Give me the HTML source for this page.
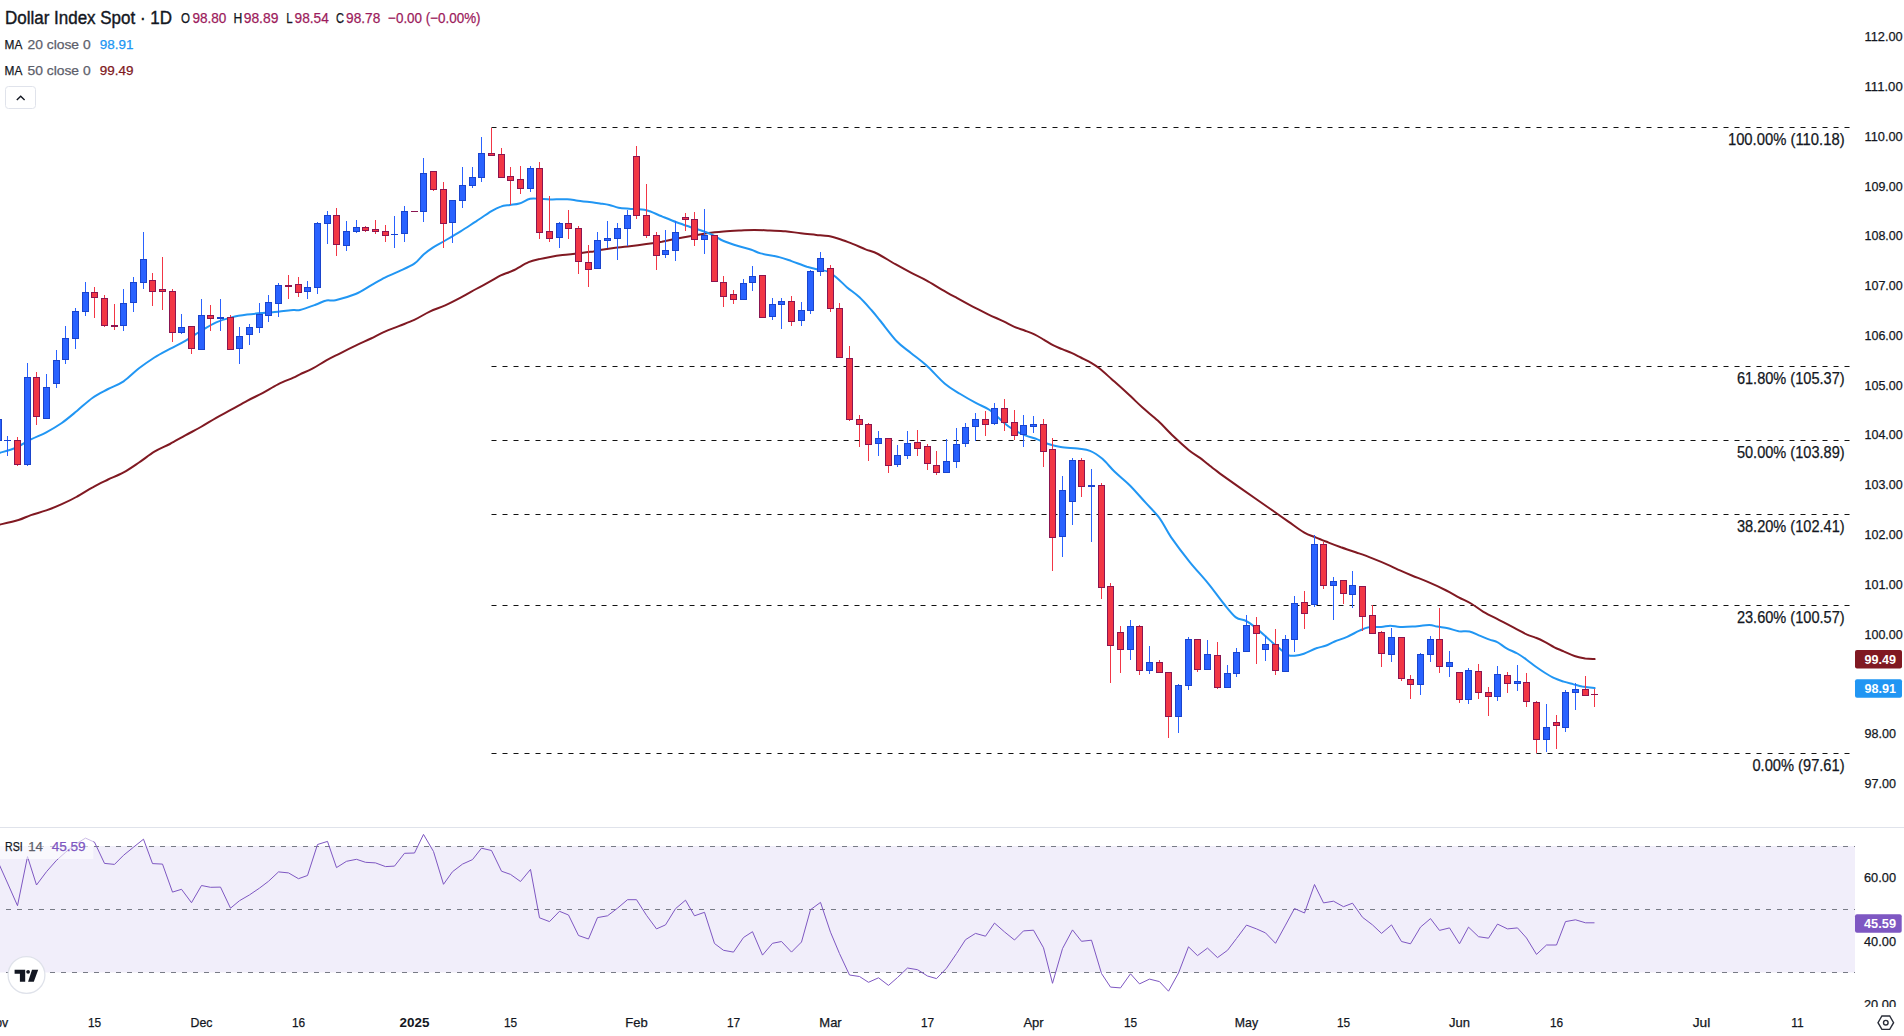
<!DOCTYPE html>
<html lang="en"><head><meta charset="utf-8"><title>Dollar Index Spot</title>
<style>
html,body{margin:0;padding:0;background:#fff;}
body{width:1904px;height:1036px;overflow:hidden;}
svg{display:block;font-family:"Liberation Sans", sans-serif;}
text{font-family:"Liberation Sans", sans-serif;}
</style></head><body>
<svg width="1904" height="1036" viewBox="0 0 1904 1036">
<rect width="1904" height="1036" fill="#fff"/>

<line x1="0" y1="827.5" x2="1904" y2="827.5" stroke="#e0e3eb" stroke-width="1"/>
<rect x="0" y="846" width="1855" height="126.5" fill="#f1eefa"/>
<line x1="0" y1="846.5" x2="1855" y2="846.5" stroke="#787b86" stroke-width="1" stroke-dasharray="5 6" stroke-dashoffset="5"/>
<line x1="0" y1="909.5" x2="1855" y2="909.5" stroke="#787b86" stroke-width="1" stroke-dasharray="5 6" stroke-dashoffset="5"/>
<line x1="0" y1="972.5" x2="1855" y2="972.5" stroke="#787b86" stroke-width="1" stroke-dasharray="5 6" stroke-dashoffset="5"/>
<polyline points="-1.5,862.9 7.5,883.0 17.5,905.7 27.5,856.6 36.5,885.0 46.5,871.7 56.5,860.3 65.5,852.3 75.5,844.2 85.5,838.1 94.5,842.2 104.5,863.4 114.5,864.4 123.5,855.3 133.5,847.2 143.5,839.2 152.5,863.6 162.5,864.1 172.5,892.1 181.5,889.3 191.5,902.7 201.5,885.5 210.5,887.3 220.5,887.1 230.5,908.2 239.5,900.7 249.5,894.9 259.5,888.1 268.5,881.3 278.5,871.9 288.5,872.9 298.5,878.7 307.5,875.5 317.5,844.5 327.5,841.4 336.5,867.6 346.5,861.3 356.5,859.3 365.5,862.3 375.5,862.9 385.5,866.6 394.5,866.1 404.5,853.3 414.5,853.0 423.5,834.4 433.5,851.5 443.5,884.3 452.5,871.7 462.5,864.1 472.5,859.6 481.5,848.2 491.5,850.5 501.5,871.2 510.5,874.4 520.5,881.5 530.5,869.4 539.5,917.8 549.5,921.6 559.5,911.3 568.5,915.0 578.5,935.5 588.5,939.0 597.5,917.6 607.5,915.8 617.5,908.2 627.5,899.7 636.5,899.7 646.5,915.3 656.5,928.9 665.5,924.9 675.5,908.7 685.5,900.2 694.5,915.8 704.5,912.3 714.5,943.5 723.5,950.3 733.5,952.1 743.5,937.5 752.5,931.7 762.5,955.1 772.5,943.3 781.5,941.5 791.5,952.1 801.5,942.0 810.5,909.7 820.5,902.4 830.5,932.2 839.5,953.6 849.5,975.0 859.5,976.5 868.5,982.3 878.5,977.8 888.5,985.4 897.5,977.5 907.5,968.0 917.5,969.7 927.5,976.0 936.5,978.6 946.5,968.2 956.5,953.6 965.5,939.7 975.5,933.4 985.5,936.2 994.5,923.1 1004.5,931.9 1014.5,940.0 1023.5,930.9 1033.5,930.2 1043.5,947.8 1052.5,983.3 1062.5,948.6 1072.5,929.9 1081.5,941.3 1091.5,940.2 1101.5,973.5 1110.5,987.1 1120.5,987.9 1130.5,973.8 1139.5,983.9 1149.5,979.1 1159.5,981.6 1168.5,991.2 1178.5,973.0 1188.5,946.8 1197.5,955.6 1207.5,948.1 1217.5,957.6 1227.5,950.3 1236.5,938.5 1246.5,925.1 1256.5,928.9 1265.5,932.9 1275.5,943.3 1285.5,925.1 1294.5,908.5 1304.5,913.0 1314.5,884.5 1323.5,902.9 1333.5,901.2 1343.5,906.7 1352.5,903.2 1362.5,917.3 1372.5,924.9 1381.5,933.4 1391.5,924.9 1401.5,941.5 1410.5,943.8 1420.5,927.1 1430.5,918.6 1439.5,930.4 1449.5,927.9 1459.5,943.8 1468.5,927.1 1478.5,936.7 1488.5,938.2 1497.5,924.1 1507.5,928.9 1517.5,927.9 1526.5,938.0 1536.5,954.4 1546.5,945.0 1556.5,945.0 1565.5,921.6 1575.5,919.8 1585.5,922.8 1594.5,922.8" fill="none" stroke="#7e57c2" stroke-width="1" stroke-linejoin="round"/>
<line x1="491.5" y1="127.5" x2="1850" y2="127.5" stroke="#131313" stroke-width="1" stroke-dasharray="5 6"/>
<text x="1844.6" y="145.1" font-size="16" fill="#131722" text-anchor="end" stroke="#131722" stroke-width="0.25" textLength="116.7" lengthAdjust="spacingAndGlyphs">100.00% (110.18)</text>
<line x1="491.5" y1="366.5" x2="1850" y2="366.5" stroke="#131313" stroke-width="1" stroke-dasharray="5 6"/>
<text x="1844.6" y="384.1" font-size="16" fill="#131722" text-anchor="end" stroke="#131722" stroke-width="0.25" textLength="107.7" lengthAdjust="spacingAndGlyphs">61.80% (105.37)</text>
<line x1="491.5" y1="440.5" x2="1850" y2="440.5" stroke="#131313" stroke-width="1" stroke-dasharray="5 6"/>
<text x="1844.6" y="458.1" font-size="16" fill="#131722" text-anchor="end" stroke="#131722" stroke-width="0.25" textLength="107.7" lengthAdjust="spacingAndGlyphs">50.00% (103.89)</text>
<line x1="491.5" y1="514.5" x2="1850" y2="514.5" stroke="#131313" stroke-width="1" stroke-dasharray="5 6"/>
<text x="1844.6" y="532.1" font-size="16" fill="#131722" text-anchor="end" stroke="#131722" stroke-width="0.25" textLength="107.7" lengthAdjust="spacingAndGlyphs">38.20% (102.41)</text>
<line x1="491.5" y1="605.5" x2="1850" y2="605.5" stroke="#131313" stroke-width="1" stroke-dasharray="5 6"/>
<text x="1844.6" y="623.1" font-size="16" fill="#131722" text-anchor="end" stroke="#131722" stroke-width="0.25" textLength="107.7" lengthAdjust="spacingAndGlyphs">23.60% (100.57)</text>
<line x1="491.5" y1="753.5" x2="1850" y2="753.5" stroke="#131313" stroke-width="1" stroke-dasharray="5 6"/>
<text x="1844.6" y="771.1" font-size="16" fill="#131722" text-anchor="end" stroke="#131722" stroke-width="0.25" textLength="92.2" lengthAdjust="spacingAndGlyphs">0.00% (97.61)</text>
<path d="M0.0,524.5C3.1,523.8 13.4,521.6 18.5,520.0C23.7,518.4 26.3,516.7 30.9,515.1C35.5,513.5 41.2,512.2 46.3,510.4C51.5,508.6 56.6,506.6 61.8,504.2C66.9,501.9 72.1,499.4 77.2,496.5C82.4,493.7 87.5,490.1 92.7,487.3C97.8,484.4 103.0,482.0 108.1,479.5C113.3,477.1 118.4,475.3 123.6,472.4C128.7,469.6 133.8,466.0 139.0,462.5C144.1,459.1 149.3,454.8 154.4,451.7C159.6,448.6 164.7,446.7 169.9,444.0C175.0,441.3 180.2,438.2 185.3,435.4C190.5,432.5 195.6,430.0 200.8,427.0C205.9,424.1 211.1,420.7 216.2,417.8C221.4,414.8 226.5,412.3 231.7,409.4C236.8,406.6 242.0,403.5 247.1,400.8C252.3,398.0 257.4,395.8 262.5,393.1C267.7,390.3 272.8,387.0 278.0,384.4C283.1,381.8 289.8,379.3 293.4,377.6C297.1,375.9 296.8,375.8 300.0,374.3C303.2,372.8 308.0,371.0 312.4,368.7C316.7,366.4 321.6,363.0 326.3,360.4C330.9,357.8 335.3,355.8 340.2,353.3C345.0,350.8 350.5,348.0 355.6,345.6C360.7,343.1 366.2,340.8 371.0,338.5C375.9,336.1 380.3,333.7 384.9,331.7C389.6,329.6 394.0,328.1 398.8,326.1C403.7,324.1 409.1,322.3 414.3,319.9C419.4,317.5 424.6,314.0 429.7,311.6C434.9,309.2 440.0,307.7 445.2,305.4C450.3,303.1 455.5,300.4 460.6,297.7C465.8,295.0 470.9,291.9 476.1,289.0C481.2,286.2 487.4,283.0 491.5,280.7C495.6,278.4 497.2,277.1 500.8,275.4C504.4,273.7 508.5,272.7 513.1,270.5C517.8,268.3 524.2,264.1 528.6,262.2C532.9,260.3 535.8,259.9 539.4,259.1C543.0,258.2 546.3,257.6 550.2,256.9C554.1,256.2 557.9,255.6 562.5,255.1C567.2,254.5 572.8,254.1 578.0,253.5C583.1,252.9 589.8,251.9 593.4,251.4C597.1,250.8 596.3,250.6 600.0,250.0C603.7,249.4 610.8,248.4 615.4,247.8C620.1,247.3 622.7,247.2 627.8,246.6C632.9,246.0 640.7,245.0 646.3,244.1C652.0,243.3 656.6,242.6 661.8,241.7C666.9,240.7 672.1,239.5 677.2,238.6C682.4,237.6 687.5,236.7 692.7,235.8C697.8,234.9 703.0,233.7 708.1,233.0C713.3,232.3 718.4,231.9 723.6,231.5C728.7,231.1 733.8,230.8 739.0,230.5C744.1,230.3 749.3,229.9 754.4,229.9C759.6,229.9 764.7,230.3 769.9,230.5C775.0,230.7 780.2,230.7 785.3,231.2C790.5,231.6 795.6,232.7 800.8,233.3C805.9,233.9 811.6,234.4 816.2,234.9C820.8,235.3 824.5,235.3 828.6,236.1C832.7,236.9 836.8,238.2 840.9,239.5C845.0,240.8 849.2,242.5 853.3,244.1C857.4,245.8 861.5,247.7 865.6,249.4C869.8,251.0 873.0,251.5 878.0,254.0C883.0,256.5 890.0,261.2 895.4,264.2C900.9,267.3 905.7,269.9 910.9,272.6C916.0,275.3 921.2,277.5 926.3,280.3C931.5,283.1 936.6,286.6 941.8,289.6C946.9,292.6 952.1,295.4 957.2,298.2C962.4,301.1 967.5,303.9 972.7,306.6C977.8,309.2 983.0,311.8 988.1,314.3C993.3,316.8 999.2,319.3 1003.6,321.4C1007.9,323.5 1010.8,325.4 1014.4,326.9C1018.0,328.5 1021.8,329.4 1025.2,330.7C1028.5,331.9 1031.4,332.9 1034.4,334.4C1037.5,335.9 1040.6,337.8 1043.7,339.6C1046.8,341.4 1049.9,343.6 1053.0,345.2C1056.1,346.8 1059.2,347.9 1062.2,349.2C1065.3,350.5 1068.4,351.5 1071.5,352.9C1074.6,354.3 1077.4,355.8 1080.8,357.5C1084.1,359.2 1088.5,361.3 1091.6,363.1C1094.7,364.9 1096.0,365.7 1099.3,368.3C1102.7,371.0 1107.0,375.0 1111.7,379.2C1116.3,383.3 1122.0,388.3 1127.1,393.1C1132.3,397.8 1137.4,402.9 1142.5,407.6C1147.7,412.2 1152.8,416.1 1158.0,420.8C1163.1,425.6 1168.3,431.4 1173.4,436.3C1178.6,441.2 1184.5,446.6 1188.9,450.2C1193.3,453.8 1196.7,455.5 1200.0,457.9C1203.3,460.4 1205.5,462.3 1208.9,464.9C1212.2,467.6 1211.9,467.7 1220.0,473.6C1228.1,479.4 1248.7,493.8 1257.5,500.0C1266.4,506.2 1267.8,507.2 1273.0,510.8C1278.1,514.4 1283.3,518.0 1288.4,521.6C1293.6,525.2 1299.2,529.8 1303.9,532.4C1308.5,535.1 1312.1,536.0 1316.2,537.7C1320.3,539.4 1324.5,541.0 1328.6,542.6C1332.7,544.2 1336.3,545.6 1340.9,547.3C1345.6,548.9 1351.2,550.7 1356.4,552.5C1361.5,554.3 1366.2,555.9 1371.8,558.1C1377.5,560.3 1385.6,563.7 1390.3,565.8C1395.0,567.9 1396.3,568.8 1400.0,570.4C1403.7,572.1 1407.7,573.8 1412.4,575.7C1417.0,577.6 1422.1,579.4 1427.8,581.9C1433.5,584.3 1441.2,587.9 1446.3,590.5C1451.5,593.1 1454.6,595.1 1458.7,597.3C1462.8,599.5 1466.9,601.1 1471.0,603.5C1475.2,605.9 1478.8,609.1 1483.4,611.8C1488.0,614.5 1493.7,617.2 1498.8,619.8C1504.0,622.5 1509.7,625.5 1514.3,627.9C1518.9,630.3 1523.0,632.7 1526.6,634.4C1530.2,636.0 1532.8,636.5 1535.9,637.8C1539.0,639.0 1542.1,640.5 1545.2,642.1C1548.3,643.7 1551.4,645.8 1554.4,647.3C1557.5,648.9 1560.4,649.9 1563.7,651.4C1567.1,652.8 1570.9,654.8 1574.5,656.0C1578.1,657.2 1582.0,657.9 1585.3,658.5C1588.7,659.0 1593.1,659.0 1594.6,659.1" fill="none" stroke="#801922" stroke-width="2" stroke-linejoin="round" stroke-linecap="round"/>
<path d="M0.0,452.7C2.6,451.9 10.3,450.2 15.4,448.0C20.6,445.8 25.7,442.0 30.9,439.4C36.0,436.8 41.2,435.0 46.3,432.3C51.5,429.5 56.6,426.6 61.8,423.0C66.9,419.4 72.1,414.9 77.2,410.7C82.4,406.4 87.5,401.3 92.7,397.7C97.8,394.1 103.0,391.8 108.1,389.0C113.3,386.3 118.4,384.8 123.6,381.3C128.7,377.9 133.8,372.3 139.0,368.3C144.1,364.4 149.3,360.8 154.4,357.5C159.6,354.3 164.7,351.7 169.9,348.9C175.0,346.1 180.2,343.8 185.3,340.8C190.5,337.9 195.6,334.1 200.8,331.0C205.9,327.9 211.1,324.6 216.2,322.3C221.4,320.1 226.5,318.7 231.7,317.4C236.8,316.1 242.0,315.3 247.1,314.6C252.3,313.9 257.4,313.5 262.5,313.1C267.7,312.6 272.8,312.3 278.0,311.8C283.1,311.3 289.8,310.3 293.4,310.0C297.1,309.7 296.3,310.9 300.0,310.0C303.7,309.2 311.1,306.4 315.4,304.8C319.8,303.2 322.9,301.2 326.3,300.5C329.6,299.7 330.6,301.2 335.5,300.2C340.4,299.1 349.7,296.4 355.6,294.0C361.5,291.5 366.2,288.1 371.0,285.3C375.9,282.6 380.3,279.9 384.9,277.6C389.6,275.3 394.0,273.7 398.8,271.4C403.7,269.1 410.2,266.5 414.3,263.7C418.4,260.9 420.5,257.1 423.6,254.4C426.6,251.8 429.2,250.0 432.8,247.6C436.4,245.3 440.5,243.3 445.2,240.5C449.8,237.8 455.5,234.5 460.6,231.3C465.8,228.1 470.9,224.7 476.1,221.4C481.2,218.0 487.4,213.7 491.5,211.2C495.6,208.7 497.7,207.6 500.8,206.6C503.9,205.5 506.9,205.5 510.0,205.0C513.1,204.5 516.0,204.5 519.3,203.5C522.7,202.4 526.8,199.6 530.1,198.8C533.5,198.1 536.0,198.7 539.4,198.8C542.7,198.9 545.6,199.4 550.2,199.5C554.8,199.5 562.5,198.9 567.2,199.2C571.8,199.4 573.6,200.1 578.0,200.7C582.4,201.3 589.8,202.1 593.4,202.5C597.1,203.0 597.4,203.0 600.0,203.4C602.6,203.8 606.2,204.2 609.3,204.9C612.4,205.6 614.9,207.0 618.5,207.7C622.1,208.4 626.3,208.5 630.9,208.9C635.5,209.3 641.2,208.9 646.3,210.2C651.5,211.4 656.6,214.3 661.8,216.3C666.9,218.4 672.1,220.6 677.2,222.5C682.4,224.4 688.0,226.2 692.7,227.8C697.3,229.3 701.4,230.4 705.0,231.8C708.6,233.1 711.2,234.2 714.3,235.8C717.4,237.3 719.4,239.3 723.6,241.0C727.7,242.8 734.4,244.9 739.0,246.3C743.6,247.7 747.7,248.5 751.4,249.7C755.0,250.9 756.0,252.2 760.6,253.4C765.3,254.6 774.0,255.8 779.2,257.1C784.3,258.4 786.9,259.5 791.5,261.1C796.1,262.7 802.3,265.2 806.9,266.7C811.6,268.1 815.7,268.9 819.3,269.8C822.9,270.6 825.5,270.4 828.6,271.9C831.7,273.4 834.7,276.2 837.8,278.7C840.9,281.3 843.5,284.3 847.1,287.4C850.7,290.5 855.3,293.4 859.5,297.3C863.6,301.1 868.4,306.7 871.8,310.5C875.2,314.4 875.8,315.3 880.0,320.5C884.2,325.6 891.8,336.1 897.0,341.5C902.1,346.9 906.0,348.9 910.9,352.9C915.8,356.9 920.7,360.1 926.3,365.3C932.0,370.4 939.2,379.0 944.9,383.8C950.5,388.6 955.2,390.8 960.3,394.0C965.5,397.2 970.9,400.3 975.8,402.9C980.6,405.6 985.0,406.8 989.7,410.0C994.3,413.3 999.7,419.2 1003.6,422.4C1007.4,425.6 1009.2,427.0 1012.8,429.2C1016.4,431.4 1021.1,433.7 1025.2,435.4C1029.3,437.1 1033.7,437.9 1037.5,439.4C1041.4,440.8 1044.5,442.7 1048.3,444.0C1052.2,445.3 1055.8,446.3 1060.7,447.1C1065.6,447.9 1072.8,448.0 1077.7,448.6C1082.6,449.3 1085.9,449.1 1090.0,450.8C1094.2,452.5 1098.3,455.3 1102.4,458.8C1106.5,462.3 1110.1,467.3 1114.7,471.8C1119.4,476.3 1125.0,480.6 1130.2,485.7C1135.3,490.9 1140.7,497.3 1145.6,502.7C1150.5,508.1 1155.3,512.4 1159.5,518.1C1163.8,523.9 1166.0,529.8 1171.0,537.1C1176.0,544.3 1183.4,554.1 1189.6,561.8C1195.8,569.5 1202.4,576.4 1208.1,583.4C1213.8,590.3 1218.9,597.8 1223.6,603.5C1228.2,609.1 1232.3,614.5 1235.9,617.4C1239.5,620.2 1242.1,618.9 1245.2,620.5C1248.3,622.0 1250.8,623.8 1254.4,626.6C1258.0,629.5 1262.7,633.8 1266.8,637.5C1270.9,641.1 1275.5,645.3 1279.2,648.3C1282.8,651.2 1285.8,653.8 1288.4,655.1C1291.0,656.3 1292.0,655.9 1294.6,655.7C1297.2,655.5 1300.3,655.1 1303.9,653.8C1307.5,652.6 1312.6,649.6 1316.2,648.3C1319.8,646.9 1322.4,646.9 1325.5,645.8C1328.6,644.7 1331.1,643.0 1334.7,641.5C1338.4,640.0 1343.0,638.6 1347.1,636.8C1351.2,635.0 1355.9,632.3 1359.5,630.7C1363.1,629.1 1365.1,627.9 1368.7,627.3C1372.3,626.6 1377.5,627.2 1381.1,626.9C1384.7,626.7 1387.2,625.7 1390.3,625.7C1393.5,625.7 1396.3,626.8 1400.0,626.9C1403.7,627.1 1407.5,626.9 1412.4,626.6C1417.2,626.3 1425.2,625.1 1429.3,625.1C1433.5,625.1 1434.0,626.1 1437.1,626.6C1440.2,627.2 1444.3,627.4 1447.9,628.2C1451.5,629.0 1455.1,630.7 1458.7,631.3C1462.3,631.8 1465.9,630.8 1469.5,631.6C1473.1,632.4 1477.0,634.6 1480.3,635.9C1483.7,637.2 1486.7,638.6 1489.6,639.6C1492.4,640.6 1494.5,640.6 1497.3,642.1C1500.1,643.5 1503.2,646.4 1506.6,648.3C1509.9,650.2 1514.0,651.6 1517.4,653.5C1520.7,655.4 1523.6,657.5 1526.6,659.7C1529.7,661.9 1532.8,664.6 1535.9,666.8C1539.0,669.0 1542.1,671.1 1545.2,673.0C1548.3,674.9 1551.4,676.8 1554.4,678.2C1557.5,679.7 1560.6,680.6 1563.7,681.6C1566.8,682.6 1569.9,683.3 1573.0,684.1C1576.1,684.9 1578.6,685.9 1582.2,686.6C1585.8,687.2 1592.5,687.9 1594.6,688.1" fill="none" stroke="#2196f3" stroke-width="2" stroke-linejoin="round" stroke-linecap="round"/>
<g shape-rendering="crispEdges">
<rect x="-2" y="416" width="1" height="28" fill="#2962ff"/>
<rect x="-5" y="419" width="7" height="22" fill="#1a44cc"/>
<rect x="-4" y="420" width="5" height="20" fill="#2962ff"/>
<rect x="7" y="436" width="1" height="20" fill="#2962ff"/>
<rect x="4" y="440" width="7" height="1" fill="#1a44cc"/>
<rect x="17" y="437" width="1" height="29" fill="#f23645"/>
<rect x="14" y="440" width="7" height="25" fill="#8a1550"/>
<rect x="15" y="441" width="5" height="23" fill="#f23645"/>
<rect x="27" y="363" width="1" height="103" fill="#2962ff"/>
<rect x="24" y="377" width="7" height="88" fill="#1a44cc"/>
<rect x="25" y="378" width="5" height="86" fill="#2962ff"/>
<rect x="36" y="372" width="1" height="53" fill="#f23645"/>
<rect x="33" y="377" width="7" height="40" fill="#8a1550"/>
<rect x="34" y="378" width="5" height="38" fill="#f23645"/>
<rect x="46" y="374" width="1" height="45" fill="#2962ff"/>
<rect x="43" y="387" width="7" height="32" fill="#1a44cc"/>
<rect x="44" y="388" width="5" height="30" fill="#2962ff"/>
<rect x="56" y="350" width="1" height="38" fill="#2962ff"/>
<rect x="53" y="360" width="7" height="24" fill="#1a44cc"/>
<rect x="54" y="361" width="5" height="22" fill="#2962ff"/>
<rect x="65" y="326" width="1" height="38" fill="#2962ff"/>
<rect x="62" y="338" width="7" height="22" fill="#1a44cc"/>
<rect x="63" y="339" width="5" height="20" fill="#2962ff"/>
<rect x="75" y="308" width="1" height="41" fill="#2962ff"/>
<rect x="72" y="311" width="7" height="28" fill="#1a44cc"/>
<rect x="73" y="312" width="5" height="26" fill="#2962ff"/>
<rect x="85" y="282" width="1" height="34" fill="#2962ff"/>
<rect x="82" y="292" width="7" height="20" fill="#1a44cc"/>
<rect x="83" y="293" width="5" height="18" fill="#2962ff"/>
<rect x="94" y="287" width="1" height="31" fill="#f23645"/>
<rect x="91" y="292" width="7" height="6" fill="#8a1550"/>
<rect x="92" y="293" width="5" height="4" fill="#f23645"/>
<rect x="104" y="295" width="1" height="32" fill="#f23645"/>
<rect x="101" y="298" width="7" height="28" fill="#8a1550"/>
<rect x="102" y="299" width="5" height="26" fill="#f23645"/>
<rect x="114" y="304" width="1" height="26" fill="#f23645"/>
<rect x="111" y="325" width="7" height="2" fill="#8a1550"/>
<rect x="123" y="289" width="1" height="42" fill="#2962ff"/>
<rect x="120" y="303" width="7" height="23" fill="#1a44cc"/>
<rect x="121" y="304" width="5" height="21" fill="#2962ff"/>
<rect x="133" y="277" width="1" height="35" fill="#2962ff"/>
<rect x="130" y="282" width="7" height="21" fill="#1a44cc"/>
<rect x="131" y="283" width="5" height="19" fill="#2962ff"/>
<rect x="143" y="232" width="1" height="57" fill="#2962ff"/>
<rect x="140" y="259" width="7" height="24" fill="#1a44cc"/>
<rect x="141" y="260" width="5" height="22" fill="#2962ff"/>
<rect x="152" y="273" width="1" height="33" fill="#f23645"/>
<rect x="149" y="280" width="7" height="12" fill="#8a1550"/>
<rect x="150" y="281" width="5" height="10" fill="#f23645"/>
<rect x="162" y="257" width="1" height="53" fill="#f23645"/>
<rect x="159" y="289" width="7" height="3" fill="#8a1550"/>
<rect x="160" y="290" width="5" height="1" fill="#f23645"/>
<rect x="172" y="289" width="1" height="53" fill="#f23645"/>
<rect x="169" y="291" width="7" height="42" fill="#8a1550"/>
<rect x="170" y="292" width="5" height="40" fill="#f23645"/>
<rect x="181" y="314" width="1" height="20" fill="#2962ff"/>
<rect x="178" y="327" width="7" height="6" fill="#1a44cc"/>
<rect x="179" y="328" width="5" height="4" fill="#2962ff"/>
<rect x="191" y="326" width="1" height="28" fill="#f23645"/>
<rect x="188" y="326" width="7" height="23" fill="#8a1550"/>
<rect x="189" y="327" width="5" height="21" fill="#f23645"/>
<rect x="201" y="299" width="1" height="51" fill="#2962ff"/>
<rect x="198" y="315" width="7" height="35" fill="#1a44cc"/>
<rect x="199" y="316" width="5" height="33" fill="#2962ff"/>
<rect x="210" y="305" width="1" height="26" fill="#f23645"/>
<rect x="207" y="315" width="7" height="4" fill="#8a1550"/>
<rect x="208" y="316" width="5" height="2" fill="#f23645"/>
<rect x="220" y="299" width="1" height="32" fill="#2962ff"/>
<rect x="217" y="317" width="7" height="2" fill="#1a44cc"/>
<rect x="230" y="315" width="1" height="35" fill="#f23645"/>
<rect x="227" y="317" width="7" height="33" fill="#8a1550"/>
<rect x="228" y="318" width="5" height="31" fill="#f23645"/>
<rect x="239" y="327" width="1" height="37" fill="#2962ff"/>
<rect x="236" y="336" width="7" height="13" fill="#1a44cc"/>
<rect x="237" y="337" width="5" height="11" fill="#2962ff"/>
<rect x="249" y="324" width="1" height="21" fill="#2962ff"/>
<rect x="246" y="327" width="7" height="8" fill="#1a44cc"/>
<rect x="247" y="328" width="5" height="6" fill="#2962ff"/>
<rect x="259" y="303" width="1" height="30" fill="#2962ff"/>
<rect x="256" y="314" width="7" height="14" fill="#1a44cc"/>
<rect x="257" y="315" width="5" height="12" fill="#2962ff"/>
<rect x="268" y="295" width="1" height="27" fill="#2962ff"/>
<rect x="265" y="302" width="7" height="14" fill="#1a44cc"/>
<rect x="266" y="303" width="5" height="12" fill="#2962ff"/>
<rect x="278" y="283" width="1" height="34" fill="#2962ff"/>
<rect x="275" y="285" width="7" height="19" fill="#1a44cc"/>
<rect x="276" y="286" width="5" height="17" fill="#2962ff"/>
<rect x="288" y="275" width="1" height="24" fill="#f23645"/>
<rect x="285" y="285" width="7" height="2" fill="#8a1550"/>
<rect x="298" y="277" width="1" height="20" fill="#f23645"/>
<rect x="295" y="284" width="7" height="9" fill="#8a1550"/>
<rect x="296" y="285" width="5" height="7" fill="#f23645"/>
<rect x="307" y="281" width="1" height="18" fill="#2962ff"/>
<rect x="304" y="287" width="7" height="5" fill="#1a44cc"/>
<rect x="305" y="288" width="5" height="3" fill="#2962ff"/>
<rect x="317" y="222" width="1" height="72" fill="#2962ff"/>
<rect x="314" y="223" width="7" height="65" fill="#1a44cc"/>
<rect x="315" y="224" width="5" height="63" fill="#2962ff"/>
<rect x="327" y="211" width="1" height="33" fill="#2962ff"/>
<rect x="324" y="215" width="7" height="9" fill="#1a44cc"/>
<rect x="325" y="216" width="5" height="7" fill="#2962ff"/>
<rect x="336" y="208" width="1" height="48" fill="#f23645"/>
<rect x="333" y="215" width="7" height="30" fill="#8a1550"/>
<rect x="334" y="216" width="5" height="28" fill="#f23645"/>
<rect x="346" y="221" width="1" height="30" fill="#2962ff"/>
<rect x="343" y="231" width="7" height="15" fill="#1a44cc"/>
<rect x="344" y="232" width="5" height="13" fill="#2962ff"/>
<rect x="356" y="220" width="1" height="13" fill="#2962ff"/>
<rect x="353" y="227" width="7" height="5" fill="#1a44cc"/>
<rect x="354" y="228" width="5" height="3" fill="#2962ff"/>
<rect x="365" y="226" width="1" height="6" fill="#f23645"/>
<rect x="362" y="227" width="7" height="4" fill="#8a1550"/>
<rect x="363" y="228" width="5" height="2" fill="#f23645"/>
<rect x="375" y="220" width="1" height="14" fill="#f23645"/>
<rect x="372" y="229" width="7" height="3" fill="#8a1550"/>
<rect x="373" y="230" width="5" height="1" fill="#f23645"/>
<rect x="385" y="225" width="1" height="17" fill="#f23645"/>
<rect x="382" y="231" width="7" height="5" fill="#8a1550"/>
<rect x="383" y="232" width="5" height="3" fill="#f23645"/>
<rect x="394" y="216" width="1" height="32" fill="#2962ff"/>
<rect x="391" y="234" width="7" height="1" fill="#1a44cc"/>
<rect x="404" y="206" width="1" height="36" fill="#2962ff"/>
<rect x="401" y="211" width="7" height="23" fill="#1a44cc"/>
<rect x="402" y="212" width="5" height="21" fill="#2962ff"/>
<rect x="414" y="211" width="1" height="1" fill="#f23645"/>
<rect x="411" y="211" width="7" height="1" fill="#8a1550"/>
<rect x="423" y="158" width="1" height="64" fill="#2962ff"/>
<rect x="420" y="173" width="7" height="39" fill="#1a44cc"/>
<rect x="421" y="174" width="5" height="37" fill="#2962ff"/>
<rect x="433" y="171" width="1" height="20" fill="#f23645"/>
<rect x="430" y="171" width="7" height="19" fill="#8a1550"/>
<rect x="431" y="172" width="5" height="17" fill="#f23645"/>
<rect x="443" y="182" width="1" height="66" fill="#f23645"/>
<rect x="440" y="189" width="7" height="35" fill="#8a1550"/>
<rect x="441" y="190" width="5" height="33" fill="#f23645"/>
<rect x="452" y="200" width="1" height="43" fill="#2962ff"/>
<rect x="449" y="200" width="7" height="23" fill="#1a44cc"/>
<rect x="450" y="201" width="5" height="21" fill="#2962ff"/>
<rect x="462" y="167" width="1" height="41" fill="#2962ff"/>
<rect x="459" y="185" width="7" height="16" fill="#1a44cc"/>
<rect x="460" y="186" width="5" height="14" fill="#2962ff"/>
<rect x="472" y="167" width="1" height="21" fill="#2962ff"/>
<rect x="469" y="177" width="7" height="9" fill="#1a44cc"/>
<rect x="470" y="178" width="5" height="7" fill="#2962ff"/>
<rect x="481" y="137" width="1" height="45" fill="#2962ff"/>
<rect x="478" y="153" width="7" height="25" fill="#1a44cc"/>
<rect x="479" y="154" width="5" height="23" fill="#2962ff"/>
<rect x="491" y="128" width="1" height="27" fill="#f23645"/>
<rect x="488" y="153" width="7" height="3" fill="#8a1550"/>
<rect x="489" y="154" width="5" height="1" fill="#f23645"/>
<rect x="501" y="148" width="1" height="29" fill="#f23645"/>
<rect x="498" y="154" width="7" height="24" fill="#8a1550"/>
<rect x="499" y="155" width="5" height="22" fill="#f23645"/>
<rect x="510" y="167" width="1" height="38" fill="#f23645"/>
<rect x="507" y="176" width="7" height="5" fill="#8a1550"/>
<rect x="508" y="177" width="5" height="3" fill="#f23645"/>
<rect x="520" y="166" width="1" height="28" fill="#f23645"/>
<rect x="517" y="179" width="7" height="10" fill="#8a1550"/>
<rect x="518" y="180" width="5" height="8" fill="#f23645"/>
<rect x="530" y="166" width="1" height="26" fill="#2962ff"/>
<rect x="527" y="168" width="7" height="21" fill="#1a44cc"/>
<rect x="528" y="169" width="5" height="19" fill="#2962ff"/>
<rect x="539" y="162" width="1" height="77" fill="#f23645"/>
<rect x="536" y="168" width="7" height="65" fill="#8a1550"/>
<rect x="537" y="169" width="5" height="63" fill="#f23645"/>
<rect x="549" y="196" width="1" height="46" fill="#f23645"/>
<rect x="546" y="231" width="7" height="8" fill="#8a1550"/>
<rect x="547" y="232" width="5" height="6" fill="#f23645"/>
<rect x="559" y="222" width="1" height="26" fill="#2962ff"/>
<rect x="556" y="223" width="7" height="15" fill="#1a44cc"/>
<rect x="557" y="224" width="5" height="13" fill="#2962ff"/>
<rect x="568" y="210" width="1" height="29" fill="#f23645"/>
<rect x="565" y="223" width="7" height="6" fill="#8a1550"/>
<rect x="566" y="224" width="5" height="4" fill="#f23645"/>
<rect x="578" y="226" width="1" height="48" fill="#f23645"/>
<rect x="575" y="228" width="7" height="34" fill="#8a1550"/>
<rect x="576" y="229" width="5" height="32" fill="#f23645"/>
<rect x="588" y="245" width="1" height="42" fill="#f23645"/>
<rect x="585" y="262" width="7" height="8" fill="#8a1550"/>
<rect x="586" y="263" width="5" height="6" fill="#f23645"/>
<rect x="597" y="232" width="1" height="37" fill="#2962ff"/>
<rect x="594" y="240" width="7" height="29" fill="#1a44cc"/>
<rect x="595" y="241" width="5" height="27" fill="#2962ff"/>
<rect x="607" y="221" width="1" height="27" fill="#2962ff"/>
<rect x="604" y="238" width="7" height="3" fill="#1a44cc"/>
<rect x="605" y="239" width="5" height="1" fill="#2962ff"/>
<rect x="617" y="223" width="1" height="37" fill="#2962ff"/>
<rect x="614" y="228" width="7" height="11" fill="#1a44cc"/>
<rect x="615" y="229" width="5" height="9" fill="#2962ff"/>
<rect x="627" y="210" width="1" height="36" fill="#2962ff"/>
<rect x="624" y="215" width="7" height="14" fill="#1a44cc"/>
<rect x="625" y="216" width="5" height="12" fill="#2962ff"/>
<rect x="636" y="146" width="1" height="73" fill="#f23645"/>
<rect x="633" y="156" width="7" height="60" fill="#8a1550"/>
<rect x="634" y="157" width="5" height="58" fill="#f23645"/>
<rect x="646" y="184" width="1" height="54" fill="#f23645"/>
<rect x="643" y="215" width="7" height="21" fill="#8a1550"/>
<rect x="644" y="216" width="5" height="19" fill="#f23645"/>
<rect x="656" y="232" width="1" height="38" fill="#f23645"/>
<rect x="653" y="235" width="7" height="21" fill="#8a1550"/>
<rect x="654" y="236" width="5" height="19" fill="#f23645"/>
<rect x="665" y="230" width="1" height="28" fill="#2962ff"/>
<rect x="662" y="250" width="7" height="5" fill="#1a44cc"/>
<rect x="663" y="251" width="5" height="3" fill="#2962ff"/>
<rect x="675" y="221" width="1" height="40" fill="#2962ff"/>
<rect x="672" y="232" width="7" height="19" fill="#1a44cc"/>
<rect x="673" y="233" width="5" height="17" fill="#2962ff"/>
<rect x="685" y="213" width="1" height="18" fill="#f23645"/>
<rect x="682" y="217" width="7" height="3" fill="#8a1550"/>
<rect x="683" y="218" width="5" height="1" fill="#f23645"/>
<rect x="694" y="212" width="1" height="34" fill="#f23645"/>
<rect x="691" y="219" width="7" height="21" fill="#8a1550"/>
<rect x="692" y="220" width="5" height="19" fill="#f23645"/>
<rect x="704" y="209" width="1" height="45" fill="#2962ff"/>
<rect x="701" y="235" width="7" height="5" fill="#1a44cc"/>
<rect x="702" y="236" width="5" height="3" fill="#2962ff"/>
<rect x="714" y="235" width="1" height="47" fill="#f23645"/>
<rect x="711" y="235" width="7" height="47" fill="#8a1550"/>
<rect x="712" y="236" width="5" height="45" fill="#f23645"/>
<rect x="723" y="276" width="1" height="31" fill="#f23645"/>
<rect x="720" y="282" width="7" height="15" fill="#8a1550"/>
<rect x="721" y="283" width="5" height="13" fill="#f23645"/>
<rect x="733" y="290" width="1" height="14" fill="#f23645"/>
<rect x="730" y="294" width="7" height="6" fill="#8a1550"/>
<rect x="731" y="295" width="5" height="4" fill="#f23645"/>
<rect x="743" y="279" width="1" height="21" fill="#2962ff"/>
<rect x="740" y="283" width="7" height="17" fill="#1a44cc"/>
<rect x="741" y="284" width="5" height="15" fill="#2962ff"/>
<rect x="752" y="266" width="1" height="25" fill="#2962ff"/>
<rect x="749" y="276" width="7" height="7" fill="#1a44cc"/>
<rect x="750" y="277" width="5" height="5" fill="#2962ff"/>
<rect x="762" y="275" width="1" height="43" fill="#f23645"/>
<rect x="759" y="275" width="7" height="43" fill="#8a1550"/>
<rect x="760" y="276" width="5" height="41" fill="#f23645"/>
<rect x="772" y="298" width="1" height="22" fill="#2962ff"/>
<rect x="769" y="304" width="7" height="13" fill="#1a44cc"/>
<rect x="770" y="305" width="5" height="11" fill="#2962ff"/>
<rect x="781" y="298" width="1" height="31" fill="#2962ff"/>
<rect x="778" y="301" width="7" height="4" fill="#1a44cc"/>
<rect x="779" y="302" width="5" height="2" fill="#2962ff"/>
<rect x="791" y="296" width="1" height="30" fill="#f23645"/>
<rect x="788" y="301" width="7" height="21" fill="#8a1550"/>
<rect x="789" y="302" width="5" height="19" fill="#f23645"/>
<rect x="801" y="302" width="1" height="24" fill="#2962ff"/>
<rect x="798" y="310" width="7" height="11" fill="#1a44cc"/>
<rect x="799" y="311" width="5" height="9" fill="#2962ff"/>
<rect x="810" y="270" width="1" height="44" fill="#2962ff"/>
<rect x="807" y="271" width="7" height="40" fill="#1a44cc"/>
<rect x="808" y="272" width="5" height="38" fill="#2962ff"/>
<rect x="820" y="252" width="1" height="24" fill="#2962ff"/>
<rect x="817" y="258" width="7" height="14" fill="#1a44cc"/>
<rect x="818" y="259" width="5" height="12" fill="#2962ff"/>
<rect x="830" y="265" width="1" height="47" fill="#f23645"/>
<rect x="827" y="268" width="7" height="41" fill="#8a1550"/>
<rect x="828" y="269" width="5" height="39" fill="#f23645"/>
<rect x="839" y="303" width="1" height="54" fill="#f23645"/>
<rect x="836" y="308" width="7" height="50" fill="#8a1550"/>
<rect x="837" y="309" width="5" height="48" fill="#f23645"/>
<rect x="849" y="346" width="1" height="75" fill="#f23645"/>
<rect x="846" y="358" width="7" height="62" fill="#8a1550"/>
<rect x="847" y="359" width="5" height="60" fill="#f23645"/>
<rect x="859" y="415" width="1" height="32" fill="#f23645"/>
<rect x="856" y="419" width="7" height="6" fill="#8a1550"/>
<rect x="857" y="420" width="5" height="4" fill="#f23645"/>
<rect x="868" y="423" width="1" height="38" fill="#f23645"/>
<rect x="865" y="424" width="7" height="21" fill="#8a1550"/>
<rect x="866" y="425" width="5" height="19" fill="#f23645"/>
<rect x="878" y="431" width="1" height="25" fill="#2962ff"/>
<rect x="875" y="438" width="7" height="6" fill="#1a44cc"/>
<rect x="876" y="439" width="5" height="4" fill="#2962ff"/>
<rect x="888" y="438" width="1" height="35" fill="#f23645"/>
<rect x="885" y="438" width="7" height="28" fill="#8a1550"/>
<rect x="886" y="439" width="5" height="26" fill="#f23645"/>
<rect x="897" y="445" width="1" height="22" fill="#2962ff"/>
<rect x="894" y="455" width="7" height="10" fill="#1a44cc"/>
<rect x="895" y="456" width="5" height="8" fill="#2962ff"/>
<rect x="907" y="431" width="1" height="28" fill="#2962ff"/>
<rect x="904" y="443" width="7" height="13" fill="#1a44cc"/>
<rect x="905" y="444" width="5" height="11" fill="#2962ff"/>
<rect x="917" y="430" width="1" height="26" fill="#f23645"/>
<rect x="914" y="442" width="7" height="7" fill="#8a1550"/>
<rect x="915" y="443" width="5" height="5" fill="#f23645"/>
<rect x="927" y="444" width="1" height="26" fill="#f23645"/>
<rect x="924" y="446" width="7" height="18" fill="#8a1550"/>
<rect x="925" y="447" width="5" height="16" fill="#f23645"/>
<rect x="936" y="451" width="1" height="24" fill="#f23645"/>
<rect x="933" y="465" width="7" height="8" fill="#8a1550"/>
<rect x="934" y="466" width="5" height="6" fill="#f23645"/>
<rect x="946" y="439" width="1" height="34" fill="#2962ff"/>
<rect x="943" y="461" width="7" height="12" fill="#1a44cc"/>
<rect x="944" y="462" width="5" height="10" fill="#2962ff"/>
<rect x="956" y="428" width="1" height="40" fill="#2962ff"/>
<rect x="953" y="444" width="7" height="18" fill="#1a44cc"/>
<rect x="954" y="445" width="5" height="16" fill="#2962ff"/>
<rect x="965" y="423" width="1" height="24" fill="#2962ff"/>
<rect x="962" y="427" width="7" height="17" fill="#1a44cc"/>
<rect x="963" y="428" width="5" height="15" fill="#2962ff"/>
<rect x="975" y="413" width="1" height="28" fill="#2962ff"/>
<rect x="972" y="419" width="7" height="8" fill="#1a44cc"/>
<rect x="973" y="420" width="5" height="6" fill="#2962ff"/>
<rect x="985" y="411" width="1" height="25" fill="#f23645"/>
<rect x="982" y="419" width="7" height="6" fill="#8a1550"/>
<rect x="983" y="420" width="5" height="4" fill="#f23645"/>
<rect x="994" y="403" width="1" height="22" fill="#2962ff"/>
<rect x="991" y="408" width="7" height="16" fill="#1a44cc"/>
<rect x="992" y="409" width="5" height="14" fill="#2962ff"/>
<rect x="1004" y="399" width="1" height="32" fill="#f23645"/>
<rect x="1001" y="408" width="7" height="15" fill="#8a1550"/>
<rect x="1002" y="409" width="5" height="13" fill="#f23645"/>
<rect x="1014" y="410" width="1" height="30" fill="#f23645"/>
<rect x="1011" y="422" width="7" height="14" fill="#8a1550"/>
<rect x="1012" y="423" width="5" height="12" fill="#f23645"/>
<rect x="1023" y="415" width="1" height="32" fill="#2962ff"/>
<rect x="1020" y="425" width="7" height="10" fill="#1a44cc"/>
<rect x="1021" y="426" width="5" height="8" fill="#2962ff"/>
<rect x="1033" y="416" width="1" height="17" fill="#2962ff"/>
<rect x="1030" y="424" width="7" height="3" fill="#1a44cc"/>
<rect x="1031" y="425" width="5" height="1" fill="#2962ff"/>
<rect x="1043" y="419" width="1" height="48" fill="#f23645"/>
<rect x="1040" y="424" width="7" height="28" fill="#8a1550"/>
<rect x="1041" y="425" width="5" height="26" fill="#f23645"/>
<rect x="1052" y="438" width="1" height="133" fill="#f23645"/>
<rect x="1049" y="449" width="7" height="89" fill="#8a1550"/>
<rect x="1050" y="450" width="5" height="87" fill="#f23645"/>
<rect x="1062" y="476" width="1" height="81" fill="#2962ff"/>
<rect x="1059" y="490" width="7" height="47" fill="#1a44cc"/>
<rect x="1060" y="491" width="5" height="45" fill="#2962ff"/>
<rect x="1072" y="458" width="1" height="67" fill="#2962ff"/>
<rect x="1069" y="460" width="7" height="42" fill="#1a44cc"/>
<rect x="1070" y="461" width="5" height="40" fill="#2962ff"/>
<rect x="1081" y="458" width="1" height="39" fill="#f23645"/>
<rect x="1078" y="460" width="7" height="27" fill="#8a1550"/>
<rect x="1079" y="461" width="5" height="25" fill="#f23645"/>
<rect x="1091" y="469" width="1" height="73" fill="#2962ff"/>
<rect x="1088" y="485" width="7" height="2" fill="#1a44cc"/>
<rect x="1101" y="483" width="1" height="116" fill="#f23645"/>
<rect x="1098" y="485" width="7" height="103" fill="#8a1550"/>
<rect x="1099" y="486" width="5" height="101" fill="#f23645"/>
<rect x="1110" y="583" width="1" height="100" fill="#f23645"/>
<rect x="1107" y="586" width="7" height="60" fill="#8a1550"/>
<rect x="1108" y="587" width="5" height="58" fill="#f23645"/>
<rect x="1120" y="626" width="1" height="47" fill="#f23645"/>
<rect x="1117" y="632" width="7" height="18" fill="#8a1550"/>
<rect x="1118" y="633" width="5" height="16" fill="#f23645"/>
<rect x="1130" y="620" width="1" height="40" fill="#2962ff"/>
<rect x="1127" y="626" width="7" height="24" fill="#1a44cc"/>
<rect x="1128" y="627" width="5" height="22" fill="#2962ff"/>
<rect x="1139" y="625" width="1" height="50" fill="#f23645"/>
<rect x="1136" y="626" width="7" height="45" fill="#8a1550"/>
<rect x="1137" y="627" width="5" height="43" fill="#f23645"/>
<rect x="1149" y="646" width="1" height="28" fill="#2962ff"/>
<rect x="1146" y="662" width="7" height="9" fill="#1a44cc"/>
<rect x="1147" y="663" width="5" height="7" fill="#2962ff"/>
<rect x="1159" y="660" width="1" height="13" fill="#f23645"/>
<rect x="1156" y="662" width="7" height="11" fill="#8a1550"/>
<rect x="1157" y="663" width="5" height="9" fill="#f23645"/>
<rect x="1168" y="672" width="1" height="66" fill="#f23645"/>
<rect x="1165" y="672" width="7" height="45" fill="#8a1550"/>
<rect x="1166" y="673" width="5" height="43" fill="#f23645"/>
<rect x="1178" y="684" width="1" height="49" fill="#2962ff"/>
<rect x="1175" y="685" width="7" height="32" fill="#1a44cc"/>
<rect x="1176" y="686" width="5" height="30" fill="#2962ff"/>
<rect x="1188" y="637" width="1" height="53" fill="#2962ff"/>
<rect x="1185" y="639" width="7" height="47" fill="#1a44cc"/>
<rect x="1186" y="640" width="5" height="45" fill="#2962ff"/>
<rect x="1197" y="639" width="1" height="33" fill="#f23645"/>
<rect x="1194" y="639" width="7" height="31" fill="#8a1550"/>
<rect x="1195" y="640" width="5" height="29" fill="#f23645"/>
<rect x="1207" y="640" width="1" height="29" fill="#2962ff"/>
<rect x="1204" y="654" width="7" height="16" fill="#1a44cc"/>
<rect x="1205" y="655" width="5" height="14" fill="#2962ff"/>
<rect x="1217" y="642" width="1" height="47" fill="#f23645"/>
<rect x="1214" y="655" width="7" height="33" fill="#8a1550"/>
<rect x="1215" y="656" width="5" height="31" fill="#f23645"/>
<rect x="1227" y="665" width="1" height="23" fill="#2962ff"/>
<rect x="1224" y="673" width="7" height="15" fill="#1a44cc"/>
<rect x="1225" y="674" width="5" height="13" fill="#2962ff"/>
<rect x="1236" y="648" width="1" height="29" fill="#2962ff"/>
<rect x="1233" y="652" width="7" height="22" fill="#1a44cc"/>
<rect x="1234" y="653" width="5" height="20" fill="#2962ff"/>
<rect x="1246" y="615" width="1" height="37" fill="#2962ff"/>
<rect x="1243" y="625" width="7" height="27" fill="#1a44cc"/>
<rect x="1244" y="626" width="5" height="25" fill="#2962ff"/>
<rect x="1256" y="617" width="1" height="47" fill="#f23645"/>
<rect x="1253" y="625" width="7" height="9" fill="#8a1550"/>
<rect x="1254" y="626" width="5" height="7" fill="#f23645"/>
<rect x="1265" y="636" width="1" height="25" fill="#2962ff"/>
<rect x="1262" y="644" width="7" height="6" fill="#1a44cc"/>
<rect x="1263" y="645" width="5" height="4" fill="#2962ff"/>
<rect x="1275" y="629" width="1" height="46" fill="#f23645"/>
<rect x="1272" y="644" width="7" height="27" fill="#8a1550"/>
<rect x="1273" y="645" width="5" height="25" fill="#f23645"/>
<rect x="1285" y="635" width="1" height="37" fill="#2962ff"/>
<rect x="1282" y="639" width="7" height="33" fill="#1a44cc"/>
<rect x="1283" y="640" width="5" height="31" fill="#2962ff"/>
<rect x="1294" y="596" width="1" height="56" fill="#2962ff"/>
<rect x="1291" y="603" width="7" height="37" fill="#1a44cc"/>
<rect x="1292" y="604" width="5" height="35" fill="#2962ff"/>
<rect x="1304" y="591" width="1" height="38" fill="#f23645"/>
<rect x="1301" y="602" width="7" height="12" fill="#8a1550"/>
<rect x="1302" y="603" width="5" height="10" fill="#f23645"/>
<rect x="1314" y="535" width="1" height="72" fill="#2962ff"/>
<rect x="1311" y="544" width="7" height="61" fill="#1a44cc"/>
<rect x="1312" y="545" width="5" height="59" fill="#2962ff"/>
<rect x="1323" y="542" width="1" height="47" fill="#f23645"/>
<rect x="1320" y="544" width="7" height="42" fill="#8a1550"/>
<rect x="1321" y="545" width="5" height="40" fill="#f23645"/>
<rect x="1333" y="577" width="1" height="43" fill="#2962ff"/>
<rect x="1330" y="581" width="7" height="5" fill="#1a44cc"/>
<rect x="1331" y="582" width="5" height="3" fill="#2962ff"/>
<rect x="1343" y="580" width="1" height="24" fill="#f23645"/>
<rect x="1340" y="580" width="7" height="14" fill="#8a1550"/>
<rect x="1341" y="581" width="5" height="12" fill="#f23645"/>
<rect x="1352" y="571" width="1" height="37" fill="#2962ff"/>
<rect x="1349" y="585" width="7" height="10" fill="#1a44cc"/>
<rect x="1350" y="586" width="5" height="8" fill="#2962ff"/>
<rect x="1362" y="586" width="1" height="45" fill="#f23645"/>
<rect x="1359" y="586" width="7" height="31" fill="#8a1550"/>
<rect x="1360" y="587" width="5" height="29" fill="#f23645"/>
<rect x="1372" y="605" width="1" height="29" fill="#f23645"/>
<rect x="1369" y="615" width="7" height="19" fill="#8a1550"/>
<rect x="1370" y="616" width="5" height="17" fill="#f23645"/>
<rect x="1381" y="631" width="1" height="36" fill="#f23645"/>
<rect x="1378" y="632" width="7" height="22" fill="#8a1550"/>
<rect x="1379" y="633" width="5" height="20" fill="#f23645"/>
<rect x="1391" y="628" width="1" height="34" fill="#2962ff"/>
<rect x="1388" y="637" width="7" height="18" fill="#1a44cc"/>
<rect x="1389" y="638" width="5" height="16" fill="#2962ff"/>
<rect x="1401" y="638" width="1" height="43" fill="#f23645"/>
<rect x="1398" y="637" width="7" height="42" fill="#8a1550"/>
<rect x="1399" y="638" width="5" height="40" fill="#f23645"/>
<rect x="1410" y="675" width="1" height="24" fill="#f23645"/>
<rect x="1407" y="679" width="7" height="6" fill="#8a1550"/>
<rect x="1408" y="680" width="5" height="4" fill="#f23645"/>
<rect x="1420" y="653" width="1" height="42" fill="#2962ff"/>
<rect x="1417" y="654" width="7" height="31" fill="#1a44cc"/>
<rect x="1418" y="655" width="5" height="29" fill="#2962ff"/>
<rect x="1430" y="636" width="1" height="26" fill="#2962ff"/>
<rect x="1427" y="639" width="7" height="16" fill="#1a44cc"/>
<rect x="1428" y="640" width="5" height="14" fill="#2962ff"/>
<rect x="1439" y="608" width="1" height="65" fill="#f23645"/>
<rect x="1436" y="639" width="7" height="28" fill="#8a1550"/>
<rect x="1437" y="640" width="5" height="26" fill="#f23645"/>
<rect x="1449" y="651" width="1" height="26" fill="#2962ff"/>
<rect x="1446" y="662" width="7" height="5" fill="#1a44cc"/>
<rect x="1447" y="663" width="5" height="3" fill="#2962ff"/>
<rect x="1459" y="672" width="1" height="31" fill="#f23645"/>
<rect x="1456" y="672" width="7" height="28" fill="#8a1550"/>
<rect x="1457" y="673" width="5" height="26" fill="#f23645"/>
<rect x="1468" y="668" width="1" height="36" fill="#2962ff"/>
<rect x="1465" y="670" width="7" height="30" fill="#1a44cc"/>
<rect x="1466" y="671" width="5" height="28" fill="#2962ff"/>
<rect x="1478" y="664" width="1" height="35" fill="#f23645"/>
<rect x="1475" y="671" width="7" height="22" fill="#8a1550"/>
<rect x="1476" y="672" width="5" height="20" fill="#f23645"/>
<rect x="1488" y="687" width="1" height="29" fill="#f23645"/>
<rect x="1485" y="692" width="7" height="5" fill="#8a1550"/>
<rect x="1486" y="693" width="5" height="3" fill="#f23645"/>
<rect x="1497" y="666" width="1" height="35" fill="#2962ff"/>
<rect x="1494" y="674" width="7" height="23" fill="#1a44cc"/>
<rect x="1495" y="675" width="5" height="21" fill="#2962ff"/>
<rect x="1507" y="672" width="1" height="21" fill="#f23645"/>
<rect x="1504" y="675" width="7" height="9" fill="#8a1550"/>
<rect x="1505" y="676" width="5" height="7" fill="#f23645"/>
<rect x="1517" y="665" width="1" height="26" fill="#2962ff"/>
<rect x="1514" y="681" width="7" height="3" fill="#1a44cc"/>
<rect x="1515" y="682" width="5" height="1" fill="#2962ff"/>
<rect x="1526" y="673" width="1" height="34" fill="#f23645"/>
<rect x="1523" y="682" width="7" height="20" fill="#8a1550"/>
<rect x="1524" y="683" width="5" height="18" fill="#f23645"/>
<rect x="1536" y="701" width="1" height="52" fill="#f23645"/>
<rect x="1533" y="702" width="7" height="38" fill="#8a1550"/>
<rect x="1534" y="703" width="5" height="36" fill="#f23645"/>
<rect x="1546" y="704" width="1" height="48" fill="#2962ff"/>
<rect x="1543" y="727" width="7" height="13" fill="#1a44cc"/>
<rect x="1544" y="728" width="5" height="11" fill="#2962ff"/>
<rect x="1556" y="715" width="1" height="34" fill="#f23645"/>
<rect x="1553" y="722" width="7" height="4" fill="#8a1550"/>
<rect x="1554" y="723" width="5" height="2" fill="#f23645"/>
<rect x="1565" y="690" width="1" height="42" fill="#2962ff"/>
<rect x="1562" y="692" width="7" height="36" fill="#1a44cc"/>
<rect x="1563" y="693" width="5" height="34" fill="#2962ff"/>
<rect x="1575" y="683" width="1" height="27" fill="#2962ff"/>
<rect x="1572" y="689" width="7" height="4" fill="#1a44cc"/>
<rect x="1573" y="690" width="5" height="2" fill="#2962ff"/>
<rect x="1585" y="676" width="1" height="19" fill="#f23645"/>
<rect x="1582" y="689" width="7" height="7" fill="#8a1550"/>
<rect x="1583" y="690" width="5" height="5" fill="#f23645"/>
<rect x="1594" y="689" width="1" height="18" fill="#f23645"/>
<rect x="1591" y="694" width="7" height="1" fill="#8a1550"/>
</g>
<text x="1864.5" y="41.1" font-size="13" fill="#131722" text-anchor="start" stroke="#131722" stroke-width="0.25" textLength="38.2" lengthAdjust="spacingAndGlyphs">112.00</text>
<text x="1864.5" y="90.9" font-size="13" fill="#131722" text-anchor="start" stroke="#131722" stroke-width="0.25" textLength="38.2" lengthAdjust="spacingAndGlyphs">111.00</text>
<text x="1864.5" y="140.7" font-size="13" fill="#131722" text-anchor="start" stroke="#131722" stroke-width="0.25" textLength="38.2" lengthAdjust="spacingAndGlyphs">110.00</text>
<text x="1864.5" y="190.5" font-size="13" fill="#131722" text-anchor="start" stroke="#131722" stroke-width="0.25" textLength="38.2" lengthAdjust="spacingAndGlyphs">109.00</text>
<text x="1864.5" y="240.3" font-size="13" fill="#131722" text-anchor="start" stroke="#131722" stroke-width="0.25" textLength="38.2" lengthAdjust="spacingAndGlyphs">108.00</text>
<text x="1864.5" y="290.1" font-size="13" fill="#131722" text-anchor="start" stroke="#131722" stroke-width="0.25" textLength="38.2" lengthAdjust="spacingAndGlyphs">107.00</text>
<text x="1864.5" y="339.8" font-size="13" fill="#131722" text-anchor="start" stroke="#131722" stroke-width="0.25" textLength="38.2" lengthAdjust="spacingAndGlyphs">106.00</text>
<text x="1864.5" y="389.6" font-size="13" fill="#131722" text-anchor="start" stroke="#131722" stroke-width="0.25" textLength="38.2" lengthAdjust="spacingAndGlyphs">105.00</text>
<text x="1864.5" y="439.4" font-size="13" fill="#131722" text-anchor="start" stroke="#131722" stroke-width="0.25" textLength="38.2" lengthAdjust="spacingAndGlyphs">104.00</text>
<text x="1864.5" y="489.2" font-size="13" fill="#131722" text-anchor="start" stroke="#131722" stroke-width="0.25" textLength="38.2" lengthAdjust="spacingAndGlyphs">103.00</text>
<text x="1864.5" y="539.0" font-size="13" fill="#131722" text-anchor="start" stroke="#131722" stroke-width="0.25" textLength="38.2" lengthAdjust="spacingAndGlyphs">102.00</text>
<text x="1864.5" y="588.8" font-size="13" fill="#131722" text-anchor="start" stroke="#131722" stroke-width="0.25" textLength="38.2" lengthAdjust="spacingAndGlyphs">101.00</text>
<text x="1864.5" y="638.6" font-size="13" fill="#131722" text-anchor="start" stroke="#131722" stroke-width="0.25" textLength="38.2" lengthAdjust="spacingAndGlyphs">100.00</text>
<text x="1864.5" y="738.2" font-size="13" fill="#131722" text-anchor="start" stroke="#131722" stroke-width="0.25" textLength="31.5" lengthAdjust="spacingAndGlyphs">98.00</text>
<text x="1864.5" y="788.0" font-size="13" fill="#131722" text-anchor="start" stroke="#131722" stroke-width="0.25" textLength="31.5" lengthAdjust="spacingAndGlyphs">97.00</text>
<rect x="1855" y="650" width="47" height="18.6" rx="2" fill="#801922"/>
<text x="1864.5" y="663.9" font-size="13" fill="#ffffff" text-anchor="start" font-weight="bold" textLength="31.5" lengthAdjust="spacingAndGlyphs">99.49</text>
<rect x="1855" y="679.2" width="47" height="18.6" rx="2" fill="#2196f3"/>
<text x="1864.5" y="693.1" font-size="13" fill="#ffffff" text-anchor="start" font-weight="bold" textLength="31.5" lengthAdjust="spacingAndGlyphs">98.91</text>
<clipPath id="rc"><rect x="1855" y="828" width="49" height="179"/></clipPath>
<g clip-path="url(#rc)">
<text x="1864" y="882.0" font-size="13" fill="#131722" text-anchor="start" stroke="#131722" stroke-width="0.25" textLength="32" lengthAdjust="spacingAndGlyphs">60.00</text>
<text x="1864" y="946.3" font-size="13" fill="#131722" text-anchor="start" stroke="#131722" stroke-width="0.25" textLength="32" lengthAdjust="spacingAndGlyphs">40.00</text>
<text x="1864" y="1009.1" font-size="13" fill="#131722" text-anchor="start" stroke="#131722" stroke-width="0.25" textLength="32" lengthAdjust="spacingAndGlyphs">20.00</text>
</g>
<rect x="1855" y="914.3" width="46.7" height="18.4" rx="2" fill="#7e57c2"/>
<text x="1864" y="928.1" font-size="13" fill="#ffffff" text-anchor="start" font-weight="bold" textLength="32" lengthAdjust="spacingAndGlyphs">45.59</text>
<text x="-2.8" y="1027" font-size="13" fill="#131722" text-anchor="middle" stroke="#131722" stroke-width="0.25" textLength="21.9" lengthAdjust="spacingAndGlyphs">Nov</text>
<text x="94.5" y="1027" font-size="13" fill="#131722" text-anchor="middle" stroke="#131722" stroke-width="0.25" textLength="13.2" lengthAdjust="spacingAndGlyphs">15</text>
<text x="201.5" y="1027" font-size="13" fill="#131722" text-anchor="middle" stroke="#131722" stroke-width="0.25" textLength="21.9" lengthAdjust="spacingAndGlyphs">Dec</text>
<text x="298.5" y="1027" font-size="13" fill="#131722" text-anchor="middle" stroke="#131722" stroke-width="0.25" textLength="13.2" lengthAdjust="spacingAndGlyphs">16</text>
<text x="414.5" y="1027" font-size="13" fill="#131722" text-anchor="middle" font-weight="bold" textLength="29.9" lengthAdjust="spacingAndGlyphs">2025</text>
<text x="510.5" y="1027" font-size="13" fill="#131722" text-anchor="middle" stroke="#131722" stroke-width="0.25" textLength="13.2" lengthAdjust="spacingAndGlyphs">15</text>
<text x="636.5" y="1027" font-size="13" fill="#131722" text-anchor="middle" stroke="#131722" stroke-width="0.25">Feb</text>
<text x="733.5" y="1027" font-size="13" fill="#131722" text-anchor="middle" stroke="#131722" stroke-width="0.25" textLength="13.2" lengthAdjust="spacingAndGlyphs">17</text>
<text x="830.5" y="1027" font-size="13" fill="#131722" text-anchor="middle" stroke="#131722" stroke-width="0.25">Mar</text>
<text x="927.5" y="1027" font-size="13" fill="#131722" text-anchor="middle" stroke="#131722" stroke-width="0.25" textLength="13.2" lengthAdjust="spacingAndGlyphs">17</text>
<text x="1033.5" y="1027" font-size="13" fill="#131722" text-anchor="middle" stroke="#131722" stroke-width="0.25">Apr</text>
<text x="1130.5" y="1027" font-size="13" fill="#131722" text-anchor="middle" stroke="#131722" stroke-width="0.25" textLength="13.2" lengthAdjust="spacingAndGlyphs">15</text>
<text x="1246.5" y="1027" font-size="13" fill="#131722" text-anchor="middle" stroke="#131722" stroke-width="0.25" textLength="23.3" lengthAdjust="spacingAndGlyphs">May</text>
<text x="1343.5" y="1027" font-size="13" fill="#131722" text-anchor="middle" stroke="#131722" stroke-width="0.25" textLength="13.2" lengthAdjust="spacingAndGlyphs">15</text>
<text x="1459.5" y="1027" font-size="13" fill="#131722" text-anchor="middle" stroke="#131722" stroke-width="0.25">Jun</text>
<text x="1556.5" y="1027" font-size="13" fill="#131722" text-anchor="middle" stroke="#131722" stroke-width="0.25" textLength="13.2" lengthAdjust="spacingAndGlyphs">16</text>
<text x="1701.5" y="1027" font-size="13" fill="#131722" text-anchor="middle" stroke="#131722" stroke-width="0.25" textLength="17.6" lengthAdjust="spacingAndGlyphs">Jul</text>
<text x="1797.5" y="1027" font-size="13" fill="#131722" text-anchor="middle" stroke="#131722" stroke-width="0.25" textLength="12.4" lengthAdjust="spacingAndGlyphs">11</text>
<g fill="none" stroke="#2a2e39" stroke-width="1.4"><path d="M1881.9,1016 h7.8 l3.9,6.7 l-3.9,6.7 h-7.8 l-3.9,-6.7 z"/><circle cx="1885.8" cy="1022.7" r="2.3"/></g>
<text x="5" y="23.9" font-size="18" fill="#131722" text-anchor="start" stroke="#131722" stroke-width="0.4" textLength="167" lengthAdjust="spacingAndGlyphs">Dollar Index Spot · 1D</text>
<text x="181" y="23.4" font-size="14" fill="#131722" text-anchor="start" stroke="#131722" stroke-width="0.25" textLength="9.0" lengthAdjust="spacingAndGlyphs">O</text>
<text x="192.5" y="23.4" font-size="15" fill="#9c1b5c" text-anchor="start" stroke="#9c1b5c" stroke-width="0.25" textLength="33.9" lengthAdjust="spacingAndGlyphs">98.80</text>
<text x="233.5" y="23.4" font-size="14" fill="#131722" text-anchor="start" stroke="#131722" stroke-width="0.25" textLength="8.8" lengthAdjust="spacingAndGlyphs">H</text>
<text x="243.7" y="23.4" font-size="15" fill="#9c1b5c" text-anchor="start" stroke="#9c1b5c" stroke-width="0.25" textLength="34.7" lengthAdjust="spacingAndGlyphs">98.89</text>
<text x="286.2" y="23.4" font-size="14" fill="#131722" text-anchor="start" stroke="#131722" stroke-width="0.25" textLength="6.4" lengthAdjust="spacingAndGlyphs">L</text>
<text x="294.6" y="23.4" font-size="15" fill="#9c1b5c" text-anchor="start" stroke="#9c1b5c" stroke-width="0.25" textLength="34.2" lengthAdjust="spacingAndGlyphs">98.54</text>
<text x="336.0" y="23.4" font-size="14" fill="#131722" text-anchor="start" stroke="#131722" stroke-width="0.25" textLength="8.0" lengthAdjust="spacingAndGlyphs">C</text>
<text x="346.1" y="23.4" font-size="15" fill="#9c1b5c" text-anchor="start" stroke="#9c1b5c" stroke-width="0.25" textLength="34.2" lengthAdjust="spacingAndGlyphs">98.78</text>
<text x="388.1" y="23.4" font-size="15" fill="#9c1b5c" text-anchor="start" stroke="#9c1b5c" stroke-width="0.25" textLength="92.5" lengthAdjust="spacingAndGlyphs">−0.00 (−0.00%)</text>
<text x="4.6" y="48.8" font-size="13" fill="#131722" text-anchor="start" stroke="#131722" stroke-width="0.25" textLength="17.8" lengthAdjust="spacingAndGlyphs">MA</text>
<text x="27.5" y="48.8" font-size="13" fill="#5d606b" text-anchor="start" stroke="#5d606b" stroke-width="0.25" textLength="63.1" lengthAdjust="spacingAndGlyphs">20 close 0</text>
<text x="99.8" y="48.8" font-size="13" fill="#2196f3" text-anchor="start" stroke="#2196f3" stroke-width="0.25" textLength="33.7" lengthAdjust="spacingAndGlyphs">98.91</text>
<text x="4.6" y="74.8" font-size="13" fill="#131722" text-anchor="start" stroke="#131722" stroke-width="0.25" textLength="17.8" lengthAdjust="spacingAndGlyphs">MA</text>
<text x="27.5" y="74.8" font-size="13" fill="#5d606b" text-anchor="start" stroke="#5d606b" stroke-width="0.25" textLength="63.1" lengthAdjust="spacingAndGlyphs">50 close 0</text>
<text x="99.8" y="74.8" font-size="13" fill="#801922" text-anchor="start" stroke="#801922" stroke-width="0.25" textLength="33.7" lengthAdjust="spacingAndGlyphs">99.49</text>
<rect x="5.5" y="86.5" width="30" height="22" rx="3" fill="#fff" stroke="#e0e3eb" stroke-width="1"/>
<path d="M16.8,100 l3.9,-3.8 l3.9,3.8" fill="none" stroke="#131722" stroke-width="1.4"/>
<rect x="0" y="834" width="93.3" height="25" fill="#ffffff" fill-opacity="0.6"/>
<text x="5" y="850.8" font-size="13" fill="#131722" text-anchor="start" stroke="#131722" stroke-width="0.25" textLength="17.7" lengthAdjust="spacingAndGlyphs">RSI</text>
<text x="28.2" y="850.8" font-size="13" fill="#5d606b" text-anchor="start" stroke="#5d606b" stroke-width="0.25" textLength="14.7" lengthAdjust="spacingAndGlyphs">14</text>
<text x="51.7" y="850.8" font-size="13" fill="#7e57c2" text-anchor="start" stroke="#7e57c2" stroke-width="0.25" textLength="34" lengthAdjust="spacingAndGlyphs">45.59</text>
<circle cx="26.5" cy="975" r="18.4" fill="#fff" stroke="#dfe2ea" stroke-width="1.3"/>
<path d="M14.6,969.7 h10.6 v12 h-5.3 v-7.9 h-5.3 z M32,969.7 h6.2 l-4.4,12 h-5.7 z" fill="#131722"/><circle cx="28.1" cy="971.8" r="1.9" fill="#131722"/>
</svg></body></html>
